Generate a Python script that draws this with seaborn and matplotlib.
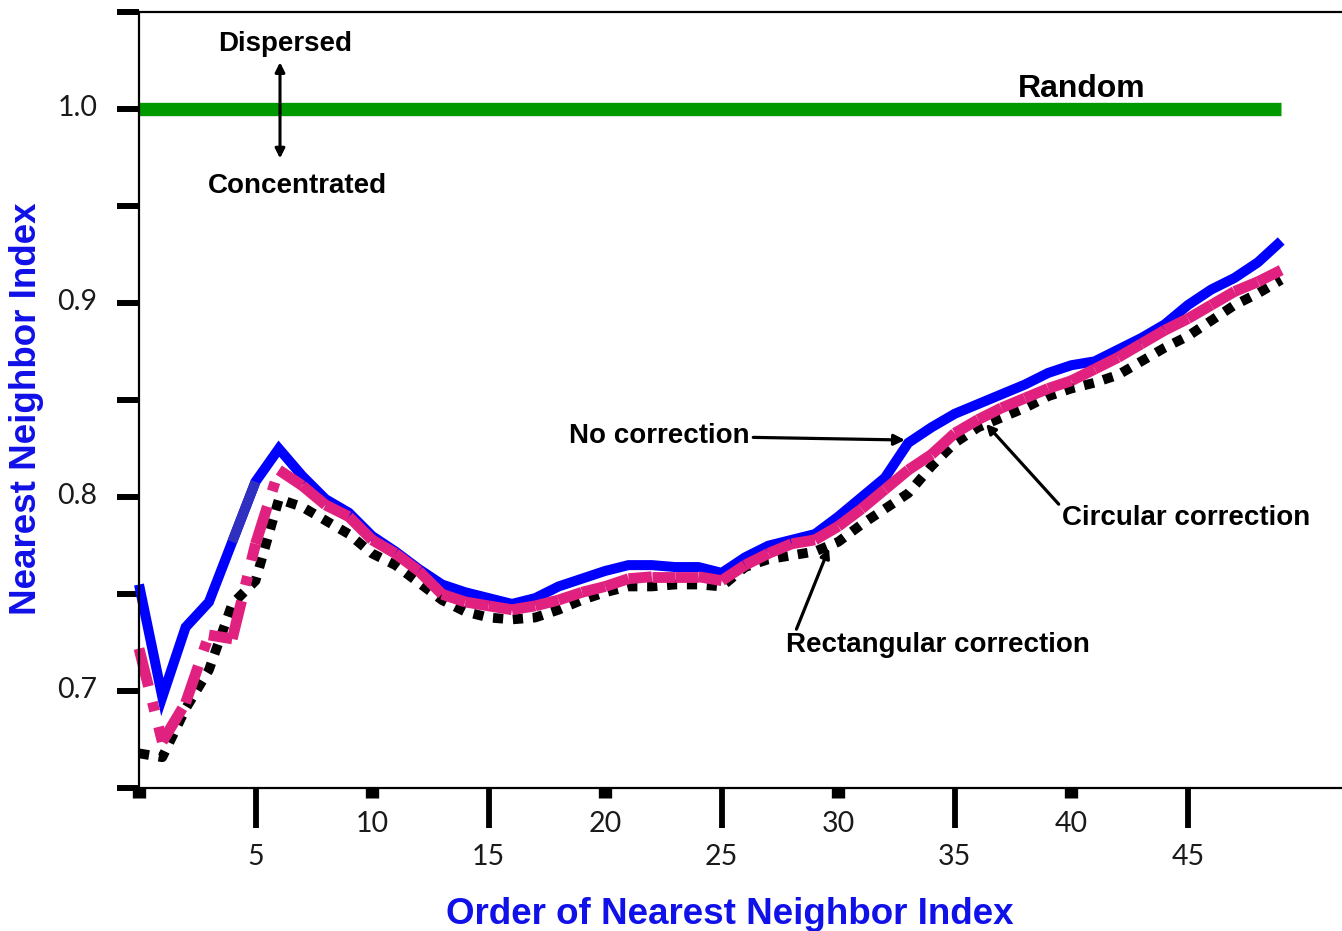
import numpy as np
import pandas as pd
import matplotlib
matplotlib.use("Agg")
import matplotlib.pyplot as plt
from matplotlib.transforms import ScaledTranslation
import seaborn as sns

# ---------------- data ----------------
order = list(range(0, 50))
no_correction = [0.755, 0.697, 0.733, 0.746, 0.777, 0.808, 0.825, 0.811, 0.799, 0.792,
                 0.780, 0.772, 0.763, 0.755, 0.751, 0.748, 0.745, 0.748, 0.754, 0.758,
                 0.762, 0.765, 0.765, 0.764, 0.764, 0.761, 0.769, 0.775, 0.778, 0.781,
                 0.790, 0.800, 0.810, 0.828, 0.836, 0.843, 0.848, 0.853, 0.858, 0.864,
                 0.868, 0.870, 0.876, 0.882, 0.889, 0.899, 0.907, 0.913, 0.921, 0.932]
circular = [0.722, 0.674, 0.694, 0.729, 0.727, 0.776, 0.814, 0.806, 0.796, 0.790,
            0.778, 0.771, 0.762, 0.750, 0.746, 0.744, 0.742, 0.744, 0.747, 0.751,
            0.754, 0.758, 0.759, 0.759, 0.759, 0.757, 0.765, 0.771, 0.776, 0.778,
            0.785, 0.794, 0.804, 0.814, 0.822, 0.833, 0.840, 0.846, 0.851, 0.856,
            0.860, 0.866, 0.872, 0.879, 0.886, 0.892, 0.899, 0.906, 0.911, 0.917]
rectangular = [0.668, 0.666, 0.691, 0.711, 0.745, 0.757, 0.799, 0.795, 0.788, 0.781,
               0.771, 0.765, 0.756, 0.747, 0.741, 0.738, 0.737, 0.738, 0.742, 0.747,
               0.751, 0.754, 0.754, 0.755, 0.755, 0.754, 0.764, 0.768, 0.770, 0.772,
               0.777, 0.786, 0.794, 0.802, 0.816, 0.828, 0.836, 0.841, 0.846, 0.852,
               0.856, 0.859, 0.863, 0.870, 0.877, 0.883, 0.891, 0.899, 0.905, 0.912]
random_order = [0, 49]
random_level = [1.0, 1.0]

xticks_short = [0, 10, 20, 30, 40]
xticklabels_short = ["", "10", "20", "30", "40"]
xticks_long = [5, 15, 25, 35, 45]
xticklabels_long = ["5", "15", "25", "35", "45"]
yticks_major = [0.7, 0.8, 0.9, 1.0]
yticklabels_major = ["0.7", "0.8", "0.9", "1.0"]
yticks_minor = [0.65, 0.75, 0.85, 0.95, 1.05]

BLUE = "#0000FF"
BLUE_DARK = "#3030C0"
PINK = "#E0217F"
GREEN = "#009A00"
LABEL_BLUE = "#1010E8"

# ---------------- style ----------------
sns.set_style("white")
plt.rcParams["font.family"] = ["Liberation Sans", "DejaVu Sans"]

fig = plt.figure(figsize=(13.42, 9.31), dpi=100)
ax = fig.add_axes([139 / 1342, 1 - 788.3 / 931, 1 - 139 / 1342, (788.3 - 12) / 931])


def segments(values):
    rows = []
    for k in range(len(order) - 1):
        rows.append({"order": order[k], "nni": values[k], "seg": k})
        rows.append({"order": order[k + 1], "nni": values[k + 1], "seg": k})
    return pd.DataFrame(rows)


# Random reference line
sns.lineplot(x=random_order, y=random_level, color=GREEN, lw=9.6, ax=ax,
             solid_capstyle="butt", legend=False)

# Rectangular correction (dotted black)
sns.lineplot(x=order, y=rectangular, color="black", lw=7.0, ax=ax,
             linestyle=(0, (1.05, 1.0)), dash_capstyle="butt", legend=False,
             clip_on=False)

# No correction (solid blue)
sns.lineplot(x=order, y=no_correction, color=BLUE, lw=7.2, ax=ax,
             legend=False, clip_on=False, solid_joinstyle="miter",
             solid_capstyle="butt")
sns.lineplot(x=order[4:6], y=no_correction[4:6], color=BLUE_DARK, lw=7.2, ax=ax,
             legend=False, solid_capstyle="butt")

# Circular correction (dash-dot pink, pattern restarting on every segment)
seg_pink = segments(circular)
sns.lineplot(data=seg_pink, x="order", y="nni", units="seg", estimator=None,
             sort=False, color=PINK, lw=7.8, ax=ax,
             linestyle=(0, (3.6, 1.5, 0.85, 1.5)), dash_capstyle="butt",
             legend=False, clip_on=False)

# ---------------- axes ----------------
ax.set_xlim(0, (1342 - 139) / 23.31)
ax.set_ylim(0.65, 1.05)
ax.set_xlabel("")
ax.set_ylabel("")

for side in ["left", "bottom", "top"]:
    ax.spines[side].set_visible(True)
    ax.spines[side].set_color("black")
    ax.spines[side].set_linewidth(1.6)
ax.spines["right"].set_visible(False)

tick_font = dict(family="Lato", size=20.5)
ax.set_xticks(xticks_short)
ax.set_xticklabels(xticklabels_short, fontdict=tick_font)
ax.set_xticks(xticks_long, minor=True)
ax.set_xticklabels(xticklabels_long, minor=True, fontdict=tick_font)
ax.tick_params(axis="x", which="major", direction="out", length=7.2, width=9.6,
               pad=9, color="black", labelcolor="#1a1a1a", bottom=True)
ax.tick_params(axis="x", which="minor", direction="out", length=29, width=4.2,
               pad=11, color="black", labelcolor="#1a1a1a", bottom=True)

ax.set_yticks(yticks_major)
ax.set_yticklabels(yticklabels_major, fontdict=tick_font)
ax.set_yticks(yticks_minor, minor=True)
ax.tick_params(axis="y", which="both", direction="out", length=15.5, width=4.3,
               pad=14.5, color="black", labelcolor="#1a1a1a", left=True)
for lbl in ax.get_yticklabels():
    lbl.set_transform(lbl.get_transform() + ScaledTranslation(0, 0.04, fig.dpi_scale_trans))

# axis titles
fig.text(730 / 1342, 1 - 914 / 931, "Order of Nearest Neighbor Index",
         color=LABEL_BLUE, fontsize=26.5, fontweight="bold",
         ha="center", va="center")
fig.text(27 / 1342, 1 - 409 / 931, "Nearest Neighbor Index",
         color=LABEL_BLUE, fontsize=26.5, fontweight="bold",
         ha="center", va="center", rotation=90)


# ---------------- annotations ----------------
def px2data(px, py):
    return ((px - 139) / 23.31, 1.0 - (py - 110.7) / 1936.7)


ann_font = dict(fontsize=20, fontweight="bold", color="black")

ax.text(*px2data(285, 46), "Dispersed", ha="center", va="center", **ann_font)
ax.text(*px2data(297, 188), "Concentrated", ha="center", va="center", **ann_font)
ax.annotate("", xy=px2data(280, 64), xytext=px2data(280, 160),
            arrowprops=dict(arrowstyle="<|-|>", color="black", lw=2.2,
                            mutation_scale=14, shrinkA=0, shrinkB=0))
ax.text(*px2data(1082, 91), "Random", ha="center", va="center",
        fontsize=23, fontweight="bold", color="black")

ax.annotate("No correction", xy=px2data(905, 441), xytext=px2data(750, 437),
            ha="right", va="center", **ann_font,
            arrowprops=dict(arrowstyle="-|>", color="black", lw=2.3,
                            mutation_scale=16, shrinkA=0, shrinkB=0,
                            relpos=(1.0, 0.45)))
ax.annotate("Circular correction", xy=px2data(986, 425), xytext=px2data(1062, 519),
            ha="left", va="center", **ann_font,
            arrowprops=dict(arrowstyle="-|>", color="black", lw=2.3,
                            mutation_scale=14, shrinkA=0, shrinkB=0,
                            relpos=(0.0, 0.9)))
ax.annotate("Rectangular correction", xy=px2data(829, 549), xytext=px2data(786, 646),
            ha="left", va="center", **ann_font,
            arrowprops=dict(arrowstyle="-|>", color="black", lw=2.3,
                            mutation_scale=14, shrinkA=0, shrinkB=0,
                            relpos=(0.03, 1.0)))

fig.savefig("out.png", dpi=100)
